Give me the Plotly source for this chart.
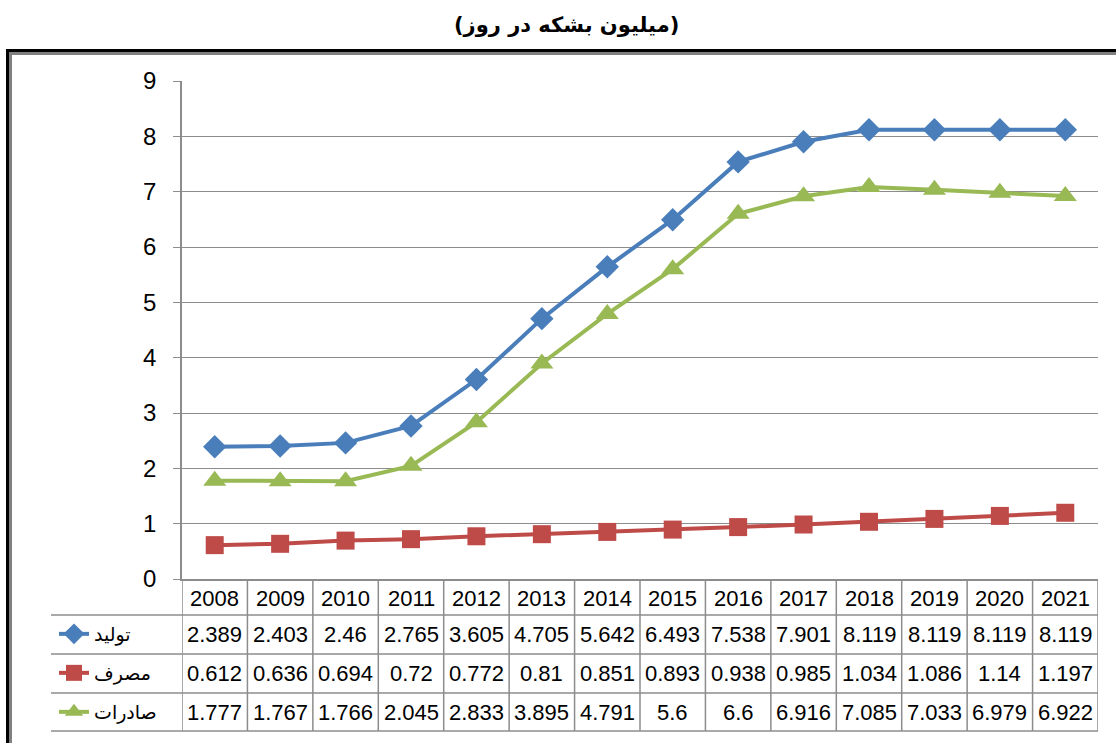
import plotly.graph_objects as go

years = ["2008", "2009", "2010", "2011", "2012", "2013", "2014",
         "2015", "2016", "2017", "2018", "2019", "2020", "2021"]
production = [2.389, 2.403, 2.46, 2.765, 3.605, 4.705, 5.642,
              6.493, 7.538, 7.901, 8.119, 8.119, 8.119, 8.119]
consumption = [0.612, 0.636, 0.694, 0.72, 0.772, 0.81, 0.851,
               0.893, 0.938, 0.985, 1.034, 1.086, 1.14, 1.197]
exports = [1.777, 1.767, 1.766, 2.045, 2.833, 3.895, 4.791,
           5.6, 6.6, 6.916, 7.085, 7.033, 6.979, 6.922]
prod_text = ["2.389", "2.403", "2.46", "2.765", "3.605", "4.705", "5.642",
             "6.493", "7.538", "7.901", "8.119", "8.119", "8.119", "8.119"]
cons_text = ["0.612", "0.636", "0.694", "0.72", "0.772", "0.81", "0.851",
             "0.893", "0.938", "0.985", "1.034", "1.086", "1.14", "1.197"]
exp_text = ["1.777", "1.767", "1.766", "2.045", "2.833", "3.895", "4.791",
            "5.6", "6.6", "6.916", "7.085", "7.033", "6.979", "6.922"]
series_names = ["تولید", "مصرف", "صادرات"]
title_text = "(میلیون بشکه در روز)"

W, H = 1116, 743
L, R, T, B = 182, 18, 81, 164
PW = W - L - R
PH = H - T - B


def px(x):
    return (x - L) / PW


def py(y):
    return (H - B - y) / PH


colors = ["#4A7EBB", "#BE4B48", "#98B954"]
symbols = ["diamond", "square", "triangle-up"]
sizes = [18, 18, 20]
values = [production, consumption, exports]
texts = [prod_text, cons_text, exp_text]
xs = list(range(len(years)))

fig = go.Figure()
row_centers = [634, 673, 712]
for i in range(3):
    fig.add_trace(go.Scatter(
        x=xs, y=values[i], name=series_names[i], mode="lines+markers",
        line=dict(color=colors[i], width=4),
        marker=dict(symbol=symbols[i], size=sizes[i], color=colors[i]),
        legend="legend" if i == 0 else f"legend{i+1}",
        showlegend=True,
    ))

ann_font = dict(family="Liberation Sans, Arial", size=22, color="black")
annotations = []
for j, yr in enumerate(years):
    annotations.append(dict(x=j, y=py(598), xref="x", yref="paper", text=yr,
                            showarrow=False, font=ann_font,
                            xanchor="center", yanchor="middle"))
    for r in range(3):
        annotations.append(dict(x=j, y=py(row_centers[r]), xref="x", yref="paper",
                                text=texts[r][j], showarrow=False, font=ann_font,
                                xanchor="center", yanchor="middle"))
annotations.append(dict(x=px(566), y=py(25), xref="paper", yref="paper",
                        text="<b>" + title_text + "</b>", showarrow=False,
                        font=dict(family="DejaVu Sans", size=21, color="black"),
                        xanchor="center", yanchor="middle"))

grid_c = "#8C8C8C"
shapes = []
# table vertical lines
for j in range(len(years) + 1):
    shapes.append(dict(type="line", xref="x", yref="paper", x0=j - 0.5, x1=j - 0.5,
                       y0=py(731), y1=0, line=dict(color=grid_c, width=1.5)))
# table horizontal lines
for yy in [615, 654, 693, 731]:
    shapes.append(dict(type="line", xref="paper", yref="paper", x0=px(51), x1=1,
                       y0=py(yy), y1=py(yy), line=dict(color=grid_c, width=1.5)))
# outer frame (black + gray shadow)
shapes.append(dict(type="line", xref="paper", yref="paper", x0=px(6), x1=px(1130),
                   y0=py(50.5), y1=py(50.5), line=dict(color="black", width=3)))
shapes.append(dict(type="line", xref="paper", yref="paper", x0=px(9), x1=px(1130),
                   y0=py(53.5), y1=py(53.5), line=dict(color="#808080", width=3)))
shapes.append(dict(type="line", xref="paper", yref="paper", x0=px(7.5), x1=px(7.5),
                   y0=py(49), y1=py(760), line=dict(color="black", width=3)))
shapes.append(dict(type="line", xref="paper", yref="paper", x0=px(10.5), x1=px(10.5),
                   y0=py(52), y1=py(760), line=dict(color="#808080", width=3)))

legend_common = dict(bgcolor="rgba(0,0,0,0)", borderwidth=0, xanchor="left",
                     yanchor="middle", orientation="v",
                     font=dict(family="DejaVu Sans", size=19, color="black"),
                     itemclick=False, itemdoubleclick=False)

fig.update_layout(
    width=W, height=H, autosize=False,
    margin=dict(l=L, r=R, t=T, b=B),
    paper_bgcolor="white", plot_bgcolor="white",
    xaxis=dict(range=[-0.5, len(years) - 0.5], showgrid=False, showticklabels=False,
               zeroline=False, showline=True, linecolor=grid_c, linewidth=1.5,
               ticks="", fixedrange=True),
    yaxis=dict(range=[0, 9], dtick=1, tick0=0, showgrid=True, gridcolor=grid_c,
               gridwidth=1.2, zeroline=False, showline=True, linecolor=grid_c,
               linewidth=1.5, ticks="outside", ticklen=7, tickcolor=grid_c,
               tickfont=dict(family="Liberation Sans, Arial", size=24, color="black"),
               ticklabelstandoff=12, fixedrange=True),
    legend=dict(x=px(54), y=py(row_centers[0]), **legend_common),
    legend2=dict(x=px(54), y=py(row_centers[1]), **legend_common),
    legend3=dict(x=px(54), y=py(row_centers[2]), **legend_common),
    annotations=annotations,
    shapes=shapes,
    showlegend=True,
)

fig.write_html(
    "out.html",
    config={"displayModeBar": False},
    post_script="document.body.style.margin='0';document.body.style.overflow='hidden';",
)
